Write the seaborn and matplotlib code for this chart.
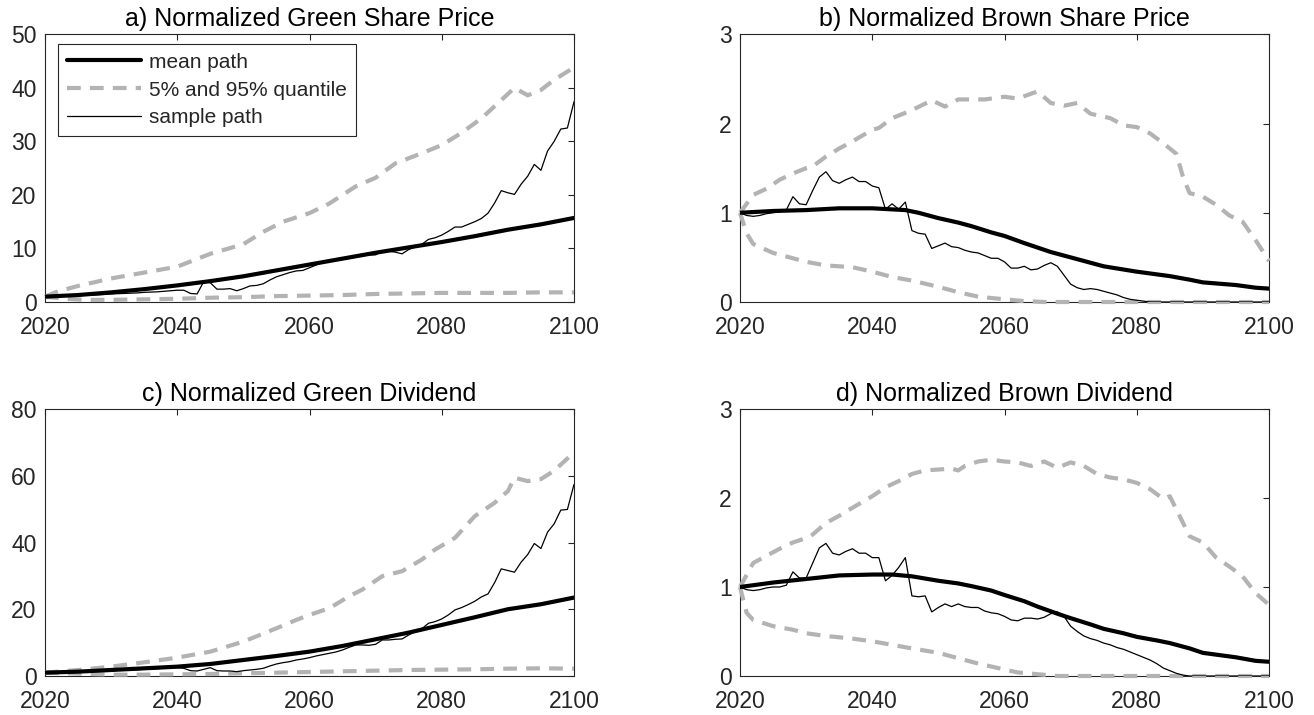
import numpy as np
import pandas as pd
import matplotlib
matplotlib.use("Agg")
import matplotlib.pyplot as plt
import seaborn as sns

# ---------------- data ----------------
years_full = list(range(2020, 2101))

# a) Normalized Green Share Price
mean_a_years = [2020, 2025, 2030, 2035, 2040, 2045, 2050, 2055, 2060, 2065, 2070, 2075, 2080, 2085, 2090, 2095, 2100]
mean_a = [1.0, 1.3, 1.8, 2.4, 3.1, 3.9, 4.8, 5.9, 7.0, 8.1, 9.2, 10.2, 11.2, 12.3, 13.5, 14.5, 15.7]
q95_a_years = [2020, 2022, 2025, 2030, 2035, 2040, 2045, 2050, 2053, 2056, 2060, 2063, 2067, 2070, 2073, 2077, 2080, 2083, 2086, 2089, 2091, 2093, 2095, 2097, 2100]
q95_a = [1.0, 2.0, 3.0, 4.4, 5.5, 6.6, 9.0, 10.8, 13.1, 15.0, 16.6, 18.4, 21.6, 23.2, 25.9, 27.8, 29.3, 31.6, 34.3, 37.7, 40.0, 38.6, 39.6, 41.5, 43.8]
q05_a_years = [2020, 2023, 2026, 2030, 2035, 2040, 2045, 2050, 2055, 2060, 2065, 2070, 2075, 2080, 2085, 2090, 2095, 2100]
q05_a = [1.0, 0.6, 0.4, 0.4, 0.5, 0.6, 0.8, 0.9, 1.1, 1.2, 1.3, 1.5, 1.6, 1.7, 1.7, 1.7, 1.8, 1.8]
sample_a = [1.0, 1.05, 1.1, 1.1, 1.15, 1.2, 1.25, 1.3, 1.35, 1.4,
            1.5, 1.55, 1.6, 1.65, 1.7, 1.8, 1.85, 1.9, 2.0, 2.1,
            2.2, 2.2, 1.6, 1.5, 3.8, 3.6, 2.4, 2.4, 2.5, 2.1,
            2.5, 3.0, 3.1, 3.4, 4.1, 4.7, 5.1, 5.5, 5.8, 5.9,
            6.4, 6.9, 7.4, 7.7, 7.9, 8.1, 8.4, 8.7, 8.9, 8.8,
            8.8, 9.5, 9.5, 9.3, 9.0, 9.8, 10.3, 10.8, 11.7, 12.0,
            12.5, 13.2, 14.0, 14.0, 14.5, 15.0, 15.6, 16.6, 18.5, 20.8,
            20.4, 20.1, 22.0, 23.5, 25.7, 24.6, 28.2, 30.0, 32.3, 32.5,
            37.4]

# b) Normalized Brown Share Price
mean_b_years = [2020, 2025, 2030, 2035, 2040, 2045, 2047, 2050, 2053, 2055, 2058, 2060, 2063, 2065, 2067, 2070, 2073, 2075, 2080, 2085, 2088, 2090, 2095, 2098, 2100]
mean_b = [1.0, 1.02, 1.03, 1.05, 1.05, 1.03, 1.0, 0.94, 0.89, 0.85, 0.78, 0.74, 0.66, 0.61, 0.56, 0.50, 0.44, 0.40, 0.34, 0.29, 0.25, 0.22, 0.19, 0.16, 0.15]
q95_b_years = [2020, 2022, 2024, 2026, 2028, 2030, 2031, 2033, 2035, 2037, 2040, 2041, 2043, 2046, 2049, 2051, 2053, 2055, 2057, 2060, 2062, 2065, 2067, 2069, 2071, 2073, 2076, 2078, 2080, 2082, 2084, 2086, 2087, 2088, 2090, 2092, 2094, 2096, 2098, 2100]
q95_b = [1.0, 1.2, 1.27, 1.37, 1.44, 1.5, 1.52, 1.63, 1.72, 1.8, 1.93, 1.95, 2.06, 2.15, 2.26, 2.19, 2.27, 2.27, 2.27, 2.3, 2.28, 2.36, 2.23, 2.2, 2.23, 2.11, 2.06, 1.98, 1.96, 1.89, 1.78, 1.66, 1.4, 1.22, 1.18, 1.09, 0.97, 0.9, 0.69, 0.46]
q05_b_years = [2020, 2021, 2022, 2025, 2028, 2030, 2033, 2037, 2040, 2043, 2046, 2050, 2053, 2056, 2060, 2063, 2066, 2070, 2080, 2090, 2100]
q05_b = [1.0, 0.77, 0.65, 0.55, 0.49, 0.45, 0.41, 0.39, 0.34, 0.28, 0.24, 0.17, 0.11, 0.06, 0.03, 0.01, 0.0, 0.0, 0.0, 0.0, 0.0]
sample_b = [1.0, 0.97, 0.96, 0.97, 0.99, 1.0, 1.01, 1.03, 1.18, 1.1,
            1.09, 1.25, 1.4, 1.46, 1.36, 1.33, 1.37, 1.4, 1.35, 1.35,
            1.3, 1.28, 1.04, 1.1, 1.04, 1.12, 0.8, 0.77, 0.76, 0.6,
            0.63, 0.66, 0.62, 0.61, 0.58, 0.56, 0.55, 0.52, 0.49, 0.49,
            0.45, 0.38, 0.38, 0.4, 0.36, 0.37, 0.41, 0.44, 0.4, 0.3,
            0.2, 0.16, 0.14, 0.15, 0.14, 0.12, 0.1, 0.08, 0.05, 0.03,
            0.02, 0.01, 0.0, 0.0, 0.0, 0.0, 0.0, 0.0, 0.0, 0.0,
            0.0, 0.0, 0.0, 0.0, 0.0, 0.0, 0.0, 0.0, 0.0, 0.0,
            0.0]

# c) Normalized Green Dividend
mean_c_years = [2020, 2025, 2030, 2035, 2040, 2045, 2050, 2055, 2060, 2065, 2070, 2075, 2080, 2085, 2090, 2095, 2100]
mean_c = [1.0, 1.3, 1.8, 2.3, 2.8, 3.6, 4.8, 6.0, 7.3, 9.0, 11.0, 13.0, 15.3, 17.6, 20.0, 21.5, 23.5]
q95_c_years = [2020, 2025, 2030, 2035, 2040, 2045, 2050, 2055, 2058, 2060, 2063, 2066, 2068, 2071, 2074, 2077, 2079, 2082, 2085, 2088, 2090, 2091, 2093, 2095, 2097, 2100]
q95_c = [1.0, 1.8, 2.8, 4.1, 5.5, 7.3, 10.3, 14.3, 16.8, 18.3, 20.3, 23.9, 25.9, 29.9, 31.4, 34.9, 37.9, 41.4, 47.9, 51.9, 55.4, 59.4, 58.4, 59.0, 61.5, 67.0]
q05_c_years = [2020, 2025, 2030, 2035, 2040, 2045, 2050, 2055, 2060, 2065, 2070, 2075, 2080, 2085, 2090, 2095, 2100]
q05_c = [1.0, 0.7, 0.4, 0.4, 0.5, 0.6, 0.8, 1.0, 1.2, 1.4, 1.6, 1.8, 1.9, 2.0, 2.2, 2.3, 2.2]
sample_c = [1.0, 1.05, 1.1, 1.15, 1.2, 1.3, 1.35, 1.4, 1.5, 1.55,
            1.6, 1.7, 1.75, 1.8, 1.9, 2.0, 2.1, 2.2, 2.3, 2.4,
            2.5, 2.3, 1.6, 1.5, 2.0, 2.5, 1.6, 1.5, 1.5, 1.3,
            1.6, 1.8, 2.0, 2.3, 3.0, 3.6, 4.0, 4.3, 4.8, 5.1,
            5.5, 6.0, 6.4, 6.8, 7.2, 7.8, 8.6, 9.3, 9.3, 9.2,
            9.5, 10.8, 10.8, 11.0, 11.1, 12.3, 13.3, 14.2, 15.8, 16.3,
            17.1, 18.3, 19.8, 20.5, 21.4, 22.4, 23.7, 24.6, 28.0, 32.1,
            31.6, 31.1, 34.1, 36.4, 39.7, 38.2, 43.1, 45.6, 49.7, 49.9,
            57.4]

# d) Normalized Brown Dividend
mean_d_years = [2020, 2025, 2030, 2035, 2040, 2043, 2046, 2050, 2053, 2055, 2058, 2060, 2063, 2065, 2068, 2070, 2073, 2075, 2078, 2080, 2083, 2085, 2088, 2090, 2093, 2095, 2098, 2100]
mean_d = [1.0, 1.05, 1.09, 1.13, 1.14, 1.14, 1.12, 1.07, 1.04, 1.01, 0.96, 0.91, 0.84, 0.78, 0.70, 0.65, 0.58, 0.53, 0.48, 0.44, 0.40, 0.37, 0.31, 0.26, 0.23, 0.21, 0.17, 0.16]
q95_d_years = [2020, 2022, 2024, 2026, 2028, 2030, 2031, 2033, 2035, 2037, 2040, 2042, 2044, 2046, 2048, 2050, 2052, 2053, 2054, 2056, 2058, 2060, 2062, 2064, 2066, 2068, 2070, 2072, 2074, 2076, 2078, 2080, 2082, 2084, 2085, 2086, 2088, 2090, 2092, 2094, 2096, 2098, 2100]
q95_d = [1.0, 1.27, 1.35, 1.43, 1.5, 1.55, 1.59, 1.72, 1.8, 1.89, 2.02, 2.12, 2.19, 2.27, 2.31, 2.32, 2.33, 2.31, 2.36, 2.41, 2.43, 2.41, 2.40, 2.36, 2.41, 2.34, 2.40, 2.36, 2.27, 2.23, 2.21, 2.17, 2.10, 1.99, 2.02, 1.87, 1.57, 1.5, 1.33, 1.23, 1.12, 0.93, 0.8]
q05_d_years = [2020, 2021, 2022, 2025, 2028, 2030, 2033, 2037, 2040, 2043, 2046, 2050, 2053, 2056, 2059, 2062, 2065, 2068, 2080, 2090, 2100]
q05_d = [1.0, 0.71, 0.63, 0.56, 0.52, 0.48, 0.45, 0.42, 0.39, 0.35, 0.31, 0.26, 0.2, 0.14, 0.09, 0.04, 0.02, 0.0, 0.0, 0.0, 0.0]
sample_d = [1.0, 0.97, 0.96, 0.97, 0.99, 1.0, 1.0, 1.02, 1.17, 1.1,
            1.1, 1.27, 1.44, 1.49, 1.38, 1.36, 1.4, 1.43, 1.38, 1.38,
            1.33, 1.33, 1.07, 1.13, 1.22, 1.33, 0.9, 0.89, 0.9, 0.72,
            0.77, 0.81, 0.78, 0.81, 0.78, 0.77, 0.77, 0.73, 0.71, 0.70,
            0.67, 0.63, 0.62, 0.65, 0.65, 0.64, 0.66, 0.7, 0.72, 0.67,
            0.56, 0.5, 0.45, 0.42, 0.4, 0.37, 0.35, 0.32, 0.3, 0.27,
            0.24, 0.21, 0.18, 0.14, 0.09, 0.06, 0.03, 0.01, 0.0, 0.0,
            0.0, 0.0, 0.0, 0.0, 0.0, 0.0, 0.0, 0.0, 0.0, 0.0,
            0.0]

titles = ["a) Normalized Green Share Price", "b) Normalized Brown Share Price",
          "c) Normalized Green Dividend", "d) Normalized Brown Dividend"]
x_ticks = [2020, 2040, 2060, 2080, 2100]
y_ticks = [[0, 10, 20, 30, 40, 50], [0, 1, 2, 3], [0, 20, 40, 60, 80], [0, 1, 2, 3]]
legend_labels = ["mean path", "5% and 95% quantile", "sample path"]

panels = [
    (mean_a_years, mean_a, q95_a_years, q95_a, q05_a_years, q05_a, sample_a),
    (mean_b_years, mean_b, q95_b_years, q95_b, q05_b_years, q05_b, sample_b),
    (mean_c_years, mean_c, q95_c_years, q95_c, q05_c_years, q05_c, sample_c),
    (mean_d_years, mean_d, q95_d_years, q95_d, q05_d_years, q05_d, sample_d),
]

# ---------------- style ----------------
sns.set_theme(style="white")
plt.rcParams['font.family'] = ['Liberation Sans', 'DejaVu Sans']
axcol = "#262626"
plt.rcParams.update({
    "axes.edgecolor": axcol,
    "axes.linewidth": 0.8,
    "xtick.color": axcol,
    "ytick.color": axcol,
    "xtick.labelcolor": axcol,
    "ytick.labelcolor": axcol,
})

fig = plt.figure(figsize=(13.14, 7.15), dpi=100)
W, H = 1314.0, 715.0
boxes = [
    (45, 34.3, 574, 302),
    (740, 34.3, 1269, 302),
    (45, 409, 574, 676),
    (740, 409, 1269, 676),
]

gray = "#b3b3b3"
dash = (0, (3.3, 2.2))
for i, (box, data) in enumerate(zip(boxes, panels)):
    l, t, r, b = box
    ax = fig.add_axes([l / W, 1 - b / H, (r - l) / W, (b - t) / H])
    my, mv, uy, uv, ly, lv, sv = data
    sns.lineplot(x=my, y=mv, ax=ax, color="black", linewidth=3.0, label=legend_labels[0],
                 zorder=4)
    sns.lineplot(x=uy, y=uv, ax=ax, color=gray, linewidth=3.0, linestyle=dash,
                 label=legend_labels[1], zorder=3, clip_on=False)
    sns.lineplot(x=ly, y=lv, ax=ax, color=gray, linewidth=3.0, linestyle=dash,
                 zorder=3, clip_on=False)
    sns.lineplot(x=years_full, y=sv, ax=ax, color="black", linewidth=0.9,
                 label=legend_labels[2], zorder=5)
    ax.set_xlim(2020, 2100)
    ax.set_ylim(y_ticks[i][0], y_ticks[i][-1])
    ax.set_xticks(x_ticks)
    ax.set_yticks(y_ticks[i])
    ax.set_xlabel("")
    ax.set_ylabel("")
    ax.tick_params(direction="in", length=4, width=0.8, top=True, right=True,
                   labelsize=16.5)
    ax.tick_params(axis="x", pad=10)
    ax.tick_params(axis="y", pad=6)
    for s in ax.spines.values():
        s.set_visible(True)
        s.set_color(axcol)
        s.set_linewidth(0.8)
    ax.set_title(titles[i], fontsize=18, pad=6, color="black")
    if i == 0:
        leg = ax.legend(loc="upper left", bbox_to_anchor=((58 - l) / (r - l), (b - 44) / (b - t)),
                        borderaxespad=0, fontsize=15, frameon=True, fancybox=False,
                        framealpha=1, edgecolor=axcol, handlelength=3.55,
                        handletextpad=0.4, labelspacing=0.42, borderpad=0.42)
        leg.get_frame().set_linewidth(0.8)
    else:
        lg = ax.get_legend()
        if lg is not None:
            lg.remove()

fig.savefig("out.png", dpi=100)
